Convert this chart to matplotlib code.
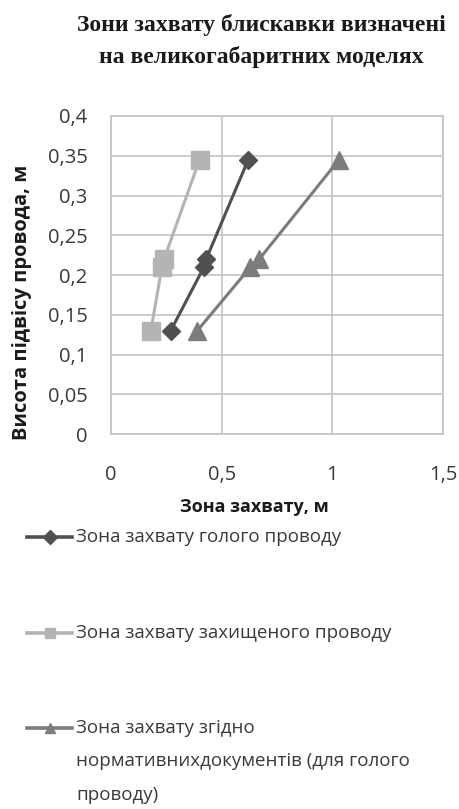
import matplotlib.pyplot as plt
from matplotlib.lines import Line2D

plt.rcParams['font.family'] = ['Open Sans', 'DejaVu Sans']

# capture zone width (m) vs wire suspension height (m)
heights = [0.13, 0.21, 0.22, 0.345]
bare_wire = [0.27, 0.42, 0.43, 0.62]
protected_wire = [0.18, 0.23, 0.24, 0.40]
normative = [0.39, 0.63, 0.67, 1.03]

labels = ['Зона захвату голого проводу',
          'Зона захвату захищеного проводу',
          'Зона захвату згідно\nнормативнихдокументів (для голого\nпроводу)']
colors = ['#505050', '#b4b4b4', '#7c7c7c']
markers = ['D', 's', '^']
msizes = [9, 13, 13]

x_ticks = [0, 0.5, 1, 1.5]
x_tick_labels = ['0', '0,5', '1', '1,5']
y_ticks = [0, 0.05, 0.1, 0.15, 0.2, 0.25, 0.3, 0.35, 0.4]
y_tick_labels = ['0', '0,05', '0,1', '0,15', '0,2', '0,25', '0,3', '0,35', '0,4']

W, H = 459, 809
fig = plt.figure(figsize=(W / 100, H / 100), dpi=100)
ax = fig.add_axes([111 / W, 1 - 434 / H, (443 - 111) / W, (434 - 116) / H])

series = [bare_wire, protected_wire, normative]
for xs, c, m, ms in zip(series, colors, markers, msizes):
    ax.plot(xs, heights, color=c, lw=2.2, marker=m, ms=ms, mec=c, mfc=c, zorder=3)

ax.set_xlim(0, 1.5)
ax.set_ylim(0, 0.4)
ax.set_xticks(x_ticks)
ax.set_xticklabels(x_tick_labels)
ax.set_yticks(y_ticks)
ax.set_yticklabels(y_tick_labels)
ax.tick_params(length=0, labelsize=14.5, colors='#3a3a3a')
ax.tick_params(axis='x', pad=22)
ax.tick_params(axis='y', pad=17)
ax.grid(True, color='#c4c4c4', lw=1.2)
ax.set_axisbelow(True)
for s in ax.spines.values():
    s.set_color('#c4c4c4')
    s.set_linewidth(1.2)

fig.text(261 / W, 1 - 25 / H, 'Зони захвату блискавки визначені',
         ha='center', va='center', family='Liberation Serif',
         fontweight='bold', fontsize=17, color='#1a1a1a')
fig.text(261 / W, 1 - 57 / H, 'на великогабаритних моделях',
         ha='center', va='center', family='Liberation Serif',
         fontweight='bold', fontsize=17, color='#1a1a1a')

fig.text(254 / W, 1 - 507 / H, 'Зона захвату, м', ha='center', va='center',
         fontweight='bold', fontsize=13, color='#1a1a1a')
fig.text(22 / W, 1 - 302 / H, 'Висота підвісу провода, м', ha='center',
         va='center', rotation=90, fontweight='bold', fontsize=14.5,
         color='#1a1a1a')

# legend drawn by hand, handle lined up with the first text line
legend_y = [537, 633, 728]
for lab, c, m, y in zip(labels, colors, markers, legend_y):
    fy = 1 - y / H
    fig.add_artist(Line2D([27 / W, 49.5 / W, 72 / W], [fy, fy, fy],
                          transform=fig.transFigure, color=c, lw=2.6,
                          marker=m, ms=7, markevery=[1], mfc=c, mec=c))
    fig.text(76 / W, fy + 9 / H, lab, ha='left', va='top', fontsize=13.5,
             color='#3a3a3a', linespacing=2.1)

fig.savefig('out.png', dpi=100)
